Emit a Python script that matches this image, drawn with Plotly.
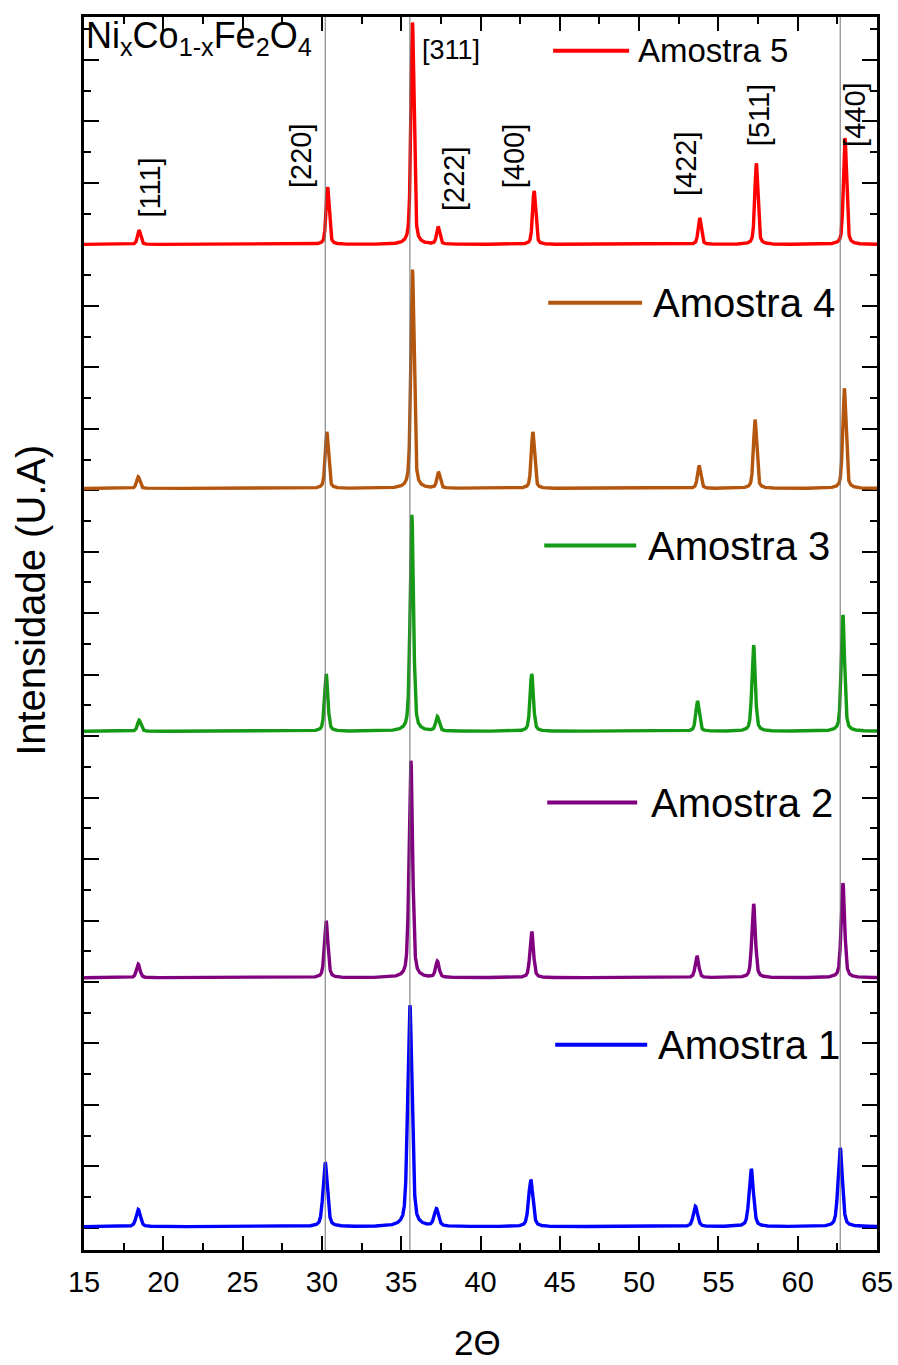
import numpy as np
import plotly.graph_objects as go

# ---- data -------------------------------------------------------------
samples = ["Amostra 1", "Amostra 2", "Amostra 3", "Amostra 4", "Amostra 5"]
hkl = ["[111]", "[220]", "[311]", "[222]", "[400]", "[422]", "[511]", "[440]"]

# peak positions (2-theta, degrees) for each sample
pos_a1 = [18.42, 30.21, 35.55, 37.22, 43.17, 53.55, 57.07, 62.68]
pos_a2 = [18.42, 30.27, 35.61, 37.28, 43.23, 53.65, 57.22, 62.85]
pos_a3 = [18.48, 30.27, 35.67, 37.28, 43.23, 53.68, 57.22, 62.85]
pos_a4 = [18.42, 30.31, 35.71, 37.35, 43.30, 53.78, 57.31, 62.94]
pos_a5 = [18.47, 30.36, 35.71, 37.33, 43.38, 53.82, 57.39, 62.98]

# peak intensities (arbitrary units above each pattern's baseline)
int_a1 = [0.28, 1.04, 3.60, 0.28, 0.76, 0.33, 0.94, 1.28]
int_a2 = [0.22, 0.92, 3.53, 0.26, 0.75, 0.35, 1.20, 1.54]
int_a3 = [0.18, 0.93, 3.52, 0.23, 0.93, 0.49, 1.40, 1.89]
int_a4 = [0.19, 0.92, 3.56, 0.26, 0.92, 0.37, 1.12, 1.63]
int_a5 = [0.23, 0.93, 3.61, 0.28, 0.87, 0.43, 1.32, 1.73]

# peak widths (FWHM, degrees)
fwhm = [0.32, 0.26, 0.25, 0.24, 0.23]

# vertical stacking offsets of the patterns
offsets = [0.02, 4.07, 8.08, 12.03, 16.0]

positions = [pos_a1, pos_a2, pos_a3, pos_a4, pos_a5]
intensities = [int_a1, int_a2, int_a3, int_a4, int_a5]
colors = ["#0000FF", "#800080", "#149A14", "#B5560F", "#FF0000"]

# ---- profile model (pseudo-Voigt peaks on a flat baseline) -------------
two_theta = np.arange(15.0, 65.0001, 0.01)


def pattern(centers, heights, w, eta=0.45):
    y = np.zeros_like(two_theta)
    for c, h in zip(centers, heights):
        d = (two_theta - c) / (w / 2.0)
        lor = 1.0 / (1.0 + d ** 2)
        gau = np.exp(-np.log(2.0) * d ** 2)
        y += h * (eta * lor + (1 - eta) * gau)
    return y


fig = go.Figure()
for i in range(5):
    fig.add_trace(go.Scatter(
        x=two_theta,
        y=pattern(positions[i], intensities[i], fwhm[i]) + offsets[i],
        mode="lines",
        line=dict(color=colors[i], width=3.4),
        name=samples[i],
        showlegend=False,
        hoverinfo="skip",
    ))

# reference lines through the [220], [311] and [440] reflections of Amostra 1
for k in (1, 2, 7):
    fig.add_shape(type="line", xref="x", yref="paper",
                  x0=pos_a1[k], x1=pos_a1[k], y0=0, y1=1,
                  line=dict(color="#707070", width=1), layer="above")

FONT = "Arial, Liberation Sans, sans-serif"

# in-plot legend: sample line + name for every pattern
legend_place = [  # (line x0, line x1, y, text x, font size)
    (44.71, 50.51, 2.98, 51.05, 40),
    (44.21, 49.88, 6.92, 50.60, 40),
    (44.02, 49.82, 11.10, 50.41, 40),
    (44.27, 50.19, 15.05, 50.72, 40),
    (44.58, 49.37, 19.15, 49.82, 33),
]
for i, (lx0, lx1, ly, tx, fs) in enumerate(legend_place):
    fig.add_shape(type="line", xref="x", yref="y",
                  x0=lx0, x1=lx1, y0=ly, y1=ly,
                  line=dict(color=colors[i], width=4))
    fig.add_annotation(x=tx, y=ly, xref="x", yref="y", text=samples[i],
                       showarrow=False, xanchor="left", yanchor="middle",
                       font=dict(family=FONT, size=fs, color="black"))

# Miller index labels above the top pattern
hkl_place = [  # (x, y, angle)
    (19.14, 16.92, -90), (28.69, 17.44, -90), (38.12, 19.16, 0),
    (38.29, 17.07, -90), (42.13, 17.44, -90), (53.00, 17.32, -90),
    (57.55, 18.10, -90), (63.60, 18.12, -90),
]
for lab, (hx, hy, ang) in zip(hkl, hkl_place):
    fig.add_annotation(x=hx, y=hy, xref="x", yref="y", text=lab,
                       showarrow=False, textangle=ang,
                       xanchor="center", yanchor="middle",
                       font=dict(family=FONT, size=(29 if ang else 27),
                                 color="black"))

# compound formula
fig.add_annotation(x=0.0, y=1.003, xref="paper", yref="paper",
                   text="Ni<sub>x</sub>Co<sub>1-x</sub>Fe<sub>2</sub>O<sub>4</sub>",
                   showarrow=False, xanchor="left", yanchor="top",
                   font=dict(family=FONT, size=36, color="black"))

# axis titles
fig.add_annotation(x=0.496, y=-0.0915, xref="paper", yref="paper", text="2Θ",
                   showarrow=False, xanchor="center", yanchor="bottom",
                   borderpad=0,
                   font=dict(family=FONT, size=35, color="black"))
fig.add_annotation(x=-0.066, y=0.527, xref="paper", yref="paper",
                   text="Intensidade (U.A)", textangle=-90,
                   showarrow=False, xanchor="center", yanchor="middle",
                   font=dict(family=FONT, size=40, color="black"))

fig.update_layout(
    width=898, height=1365, autosize=False,
    margin=dict(l=84, r=21, t=17, b=115, pad=0, autoexpand=False),
    plot_bgcolor="white", paper_bgcolor="white",
    showlegend=False,
    font=dict(family=FONT, color="black"),
)
fig.update_xaxes(
    range=[15, 65], tick0=15, dtick=5, automargin=False,
    ticks="inside", ticklen=14, tickwidth=2, tickcolor="black",
    showline=True, linewidth=2.5, linecolor="black", mirror="ticks",
    minor=dict(ticks="inside", ticklen=7, tickwidth=2, tick0=15, dtick=2.5,
               tickcolor="black"),
    showgrid=False, zeroline=False, layer="below traces",
    tickfont=dict(family=FONT, size=29, color="black"),
    ticklabelstandoff=4,
)
fig.update_yaxes(
    range=[-0.36, 19.70], tick0=0, dtick=1, automargin=False,
    ticks="inside", ticklen=15, tickwidth=2, tickcolor="black",
    showline=True, linewidth=2.5, linecolor="black", mirror="ticks",
    minor=dict(ticks="inside", ticklen=7, tickwidth=2, tick0=0, dtick=0.5,
               tickcolor="black"),
    showticklabels=False, showgrid=False, zeroline=False, layer="below traces",
)

fig.write_html("out.html")
